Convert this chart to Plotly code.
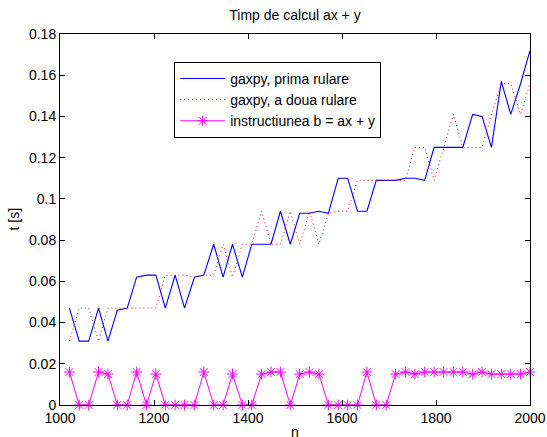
import plotly.graph_objects as go

# problem size n
n_vals = [1020, 1041, 1061, 1082, 1102, 1122, 1143, 1163, 1184, 1204,
          1224, 1245, 1265, 1286, 1306, 1327, 1347, 1367, 1388, 1408,
          1429, 1449, 1469, 1490, 1510, 1531, 1551, 1571, 1592, 1612,
          1633, 1653, 1673, 1694, 1714, 1735, 1755, 1776, 1796, 1816,
          1837, 1857, 1878, 1898, 1918, 1939, 1959, 1980, 2000]

# gaxpy, first run [s]
t_run1 = [0.047, 0.031, 0.031, 0.047, 0.031, 0.046, 0.047, 0.062, 0.063, 0.063,
          0.047, 0.063, 0.047, 0.062, 0.063, 0.078, 0.062, 0.078, 0.062, 0.078,
          0.078, 0.078, 0.094, 0.078, 0.093, 0.093, 0.094, 0.093, 0.110, 0.110,
          0.094, 0.094, 0.109, 0.109, 0.109, 0.110, 0.110, 0.109, 0.125, 0.125,
          0.125, 0.125, 0.141, 0.140, 0.125, 0.157, 0.141, 0.156, 0.172]

# gaxpy, second run [s]
t_run2 = [0.031, 0.047, 0.047, 0.031, 0.047, 0.047, 0.047, 0.047, 0.047, 0.047,
          0.063, 0.063, 0.063, 0.062, 0.063, 0.063, 0.078, 0.062, 0.078, 0.078,
          0.094, 0.078, 0.078, 0.094, 0.078, 0.094, 0.078, 0.093, 0.094, 0.094,
          0.109, 0.109, 0.109, 0.109, 0.109, 0.109, 0.125, 0.125, 0.109, 0.125,
          0.141, 0.125, 0.125, 0.125, 0.141, 0.156, 0.156, 0.141, 0.156]

# built-in vector expression b = ax + y [s]
t_builtin = [0.016, 0, 0, 0.016, 0.015, 0, 0, 0.016, 0, 0.015,
             0, 0, 0, 0, 0.016, 0, 0, 0.015, 0, 0,
             0.015, 0.016, 0.016, 0, 0.015, 0.016, 0.015, 0, 0, 0,
             0, 0.016, 0, 0, 0.015, 0.016, 0.015, 0.016, 0.016, 0.016,
             0.016, 0.016, 0.015, 0.016, 0.015, 0.015, 0.015, 0.015, 0.016]

x_ticks = [1000, 1200, 1400, 1600, 1800, 2000]
y_ticks = [0, 0.02, 0.04, 0.06, 0.08, 0.10, 0.12, 0.14, 0.16, 0.18]
y_tick_labels = ["0", "0.02", "0.04", "0.06", "0.08", "0.1", "0.12", "0.14", "0.16", "0.18"]

FONT = "Liberation Sans, Arial, Helvetica, sans-serif"
FS = 14

fig = go.Figure()
fig.add_trace(go.Scatter(x=n_vals, y=t_run1, mode="lines",
                         name="gaxpy, prima rulare",
                         line=dict(color="#0000ff", width=1.1)))
fig.add_trace(go.Scatter(x=n_vals, y=t_run2, mode="lines",
                         name="gaxpy, a doua rulare",
                         line=dict(color="#ff0000", width=1, dash="1px,3px")))
fig.add_trace(go.Scatter(x=n_vals, y=t_builtin, mode="lines+markers",
                         name="instructiunea b = ax + y",
                         line=dict(color="#ff00ff", width=1),
                         marker=dict(symbol="asterisk-open", size=9,
                                     color="#ff00ff",
                                     line=dict(color="#ff00ff", width=1)),
                         cliponaxis=False))

axis_common = dict(showgrid=False, zeroline=False, showline=True,
                   linecolor="black", linewidth=1, mirror="allticks",
                   ticks="inside", ticklen=5, tickcolor="black",
                   automargin=False,
                   tickfont=dict(family=FONT, size=FS, color="black"))

fig.update_xaxes(range=[1000, 2000], tickvals=x_ticks, **axis_common)
fig.update_yaxes(range=[0, 0.18], tickvals=y_ticks, ticktext=y_tick_labels,
                 **axis_common)

fig.update_layout(
    width=547, height=437,
    margin=dict(l=60, r=17, t=34, b=32),
    paper_bgcolor="white", plot_bgcolor="white",
    font=dict(family=FONT, size=FS, color="black"),
    title=dict(text="Timp de calcul ax + y", x=0.5, xref="paper",
               y=1 - 15 / 437, yanchor="middle",
               font=dict(family=FONT, size=FS, color="black")),
    showlegend=True,
    legend=dict(x=0.243, y=0.925, xanchor="left", yanchor="top",
                itemwidth=45,
                bgcolor="white", bordercolor="black", borderwidth=1,
                font=dict(family=FONT, size=FS, color="black")),
    annotations=[
        dict(text="t [s]", textangle=-90, xref="paper", yref="paper",
             x=(13 - 60) / 470, y=0.5, xanchor="center", yanchor="middle",
             showarrow=False, font=dict(family=FONT, size=FS, color="black")),
        dict(text="n", xref="paper", yref="paper",
             x=0.5, y=(405 - 432) / 371, xanchor="center", yanchor="middle",
             showarrow=False, font=dict(family=FONT, size=FS, color="black")),
    ],
)

fig.write_html("out.html")
